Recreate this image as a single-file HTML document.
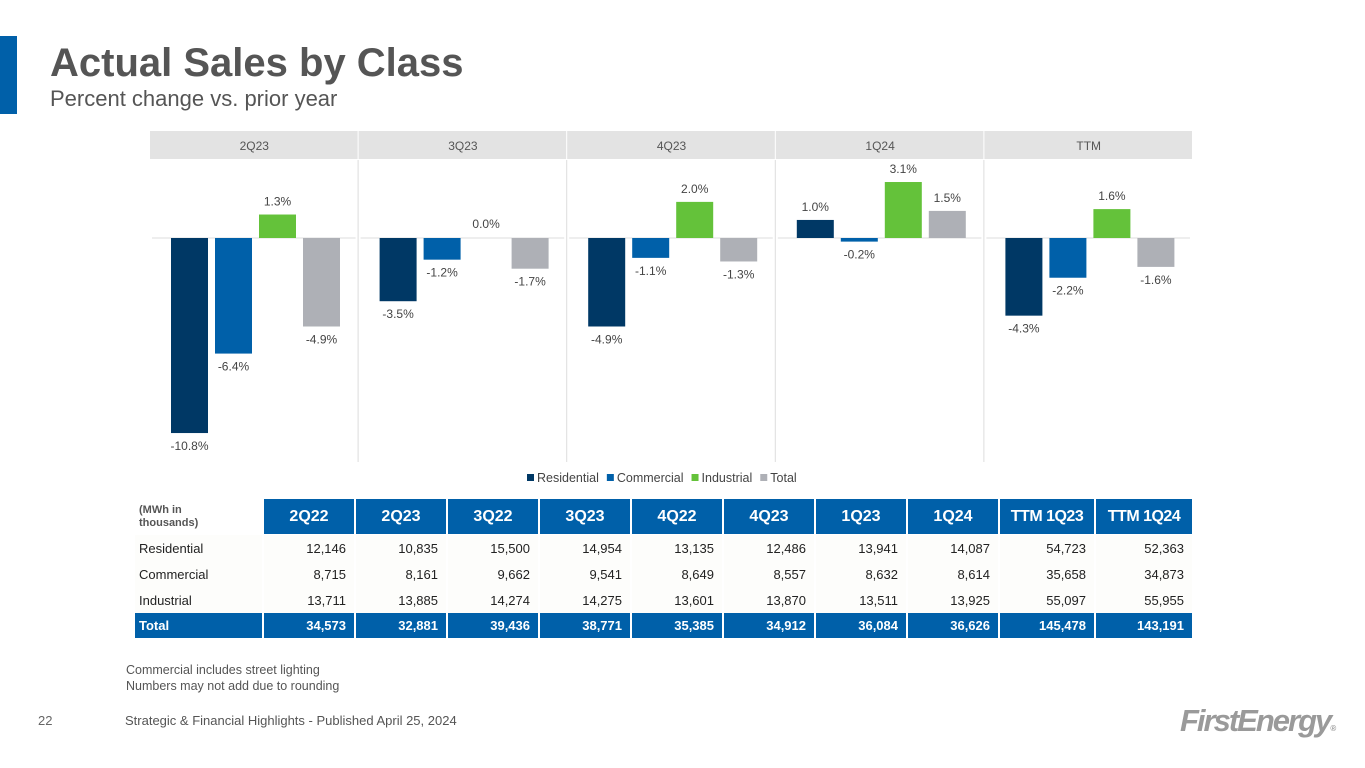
<!DOCTYPE html>
<html><head><meta charset="utf-8">
<style>
body{margin:0;width:1365px;height:768px;overflow:hidden;background:#fff;font-family:"Liberation Sans",Arial,sans-serif;position:relative}
.abs{position:absolute}
table{border-collapse:separate;border-spacing:2px 0;font-size:13px;color:#222;table-layout:fixed;width:1059px}
td,th{padding:0 8px;height:26px;white-space:nowrap;overflow:hidden;box-sizing:border-box}
th{background:#0060a9;color:#fff;font-size:16px;font-weight:bold;height:36px;text-align:center;border-bottom:1px solid #fff;padding:0 2px}
td.n{text-align:right;background:#fdfdfb}
td.l{text-align:left;background:#fdfdfb;padding-left:4px}
tr.tot td{background:#0060a9;color:#fff;font-weight:bold;height:25px}
</style></head><body>
<div class="abs" style="left:0;top:36px;width:17px;height:78px;background:#0060a9"></div>
<div class="abs" style="left:50px;top:41px;font-size:40px;font-weight:bold;color:#555">Actual Sales by Class</div>
<div class="abs" style="left:50px;top:86px;font-size:22px;color:#555">Percent change vs. prior year</div>

<svg class="abs" style="left:0;top:0" width="1365" height="500">
<g id="chart"></g>
</svg>

<div class="abs" style="left:133px;top:499px">
<table id="tbl"></table>
</div>

<div class="abs" style="left:126px;top:662px;font-size:12.5px;color:#555;line-height:16px">Commercial includes street lighting<br>Numbers may not add due to rounding</div>
<div class="abs" style="left:38px;top:713px;font-size:13px;color:#666">22</div>
<div class="abs" style="left:125px;top:713px;font-size:13px;color:#555">Strategic &amp; Financial Highlights - Published April 25, 2024</div>
<div class="abs" style="left:1180px;top:703px;font-size:31px;font-weight:bold;font-style:italic;color:#9a9a9a;letter-spacing:-2px">FirstEnergy<span style="font-size:8px;letter-spacing:0">®</span></div>

<script>
const periods=["2Q23","3Q23","4Q23","1Q24","TTM"];
const seriesNames=["Residential","Commercial","Industrial","Total"];
const residential=[-10.8,-3.5,-4.9,1.0,-4.3];
const commercial=[-6.4,-1.2,-1.1,-0.2,-2.2];
const industrial=[1.3,0.0,2.0,3.1,1.6];
const total=[-4.9,-1.7,-1.3,1.5,-1.6];
const colors=["#003865","#0060a9","#64c23a","#aeb0b6"];
const ns="http://www.w3.org/2000/svg";
const g=document.getElementById("chart");
const y0=238,pxPer=18.06,panelX0=150,panelW=208.6;
const yScale=v=>y0-v*pxPer;
function el(t,a){const e=document.createElementNS(ns,t);for(const k in a)e.setAttribute(k,a[k]);g.appendChild(e);return e;}
periods.forEach((p,i)=>{
  const x=panelX0+i*panelW;
  const h=el("rect",{x:x,y:131,width:panelW-1,height:28,fill:"#e3e3e3"});
  
  
  const t=el("text",{x:x+panelW/2,y:150,"text-anchor":"middle","font-size":12,fill:"#555"});t.textContent=p;
  
  
  if(i>0){const s=el("line",{x1:x-0.5,x2:x-0.5,y1:160,y2:462,stroke:"#ddd"});
  
  }
  const z=el("line",{x1:x+2,x2:x+panelW-3,y1:y0,y2:y0,stroke:"#ddd"});
  
  
  [residential,commercial,industrial,total].forEach((arr,j)=>{
    const v=arr[i];const bx=x+21+j*44;
    const top=Math.min(yScale(v),y0),hh=Math.abs(yScale(v)-y0);
    const r=el("rect",{x:bx,y:top,width:37,height:hh,fill:colors[j]});
    
    
    const ly=v>0?yScale(v)-9:(v<0?yScale(v)+17:y0-10);
    const l=el("text",{x:bx+18.5,y:ly,"text-anchor":"middle","font-size":12,fill:"#444"});
    l.textContent=v.toFixed(1)+"%";
    
    
  });
});
let lx=527;
seriesNames.forEach((n,j)=>{
  const s=el("rect",{x:lx,y:474,width:7,height:7,fill:colors[j]});
  
  
  const t=el("text",{x:lx+10,y:482,"font-size":12.5,fill:"#444"});t.textContent=n;
  
  
  lx+=t.getComputedTextLength()+18;
});

const cols=["2Q22","2Q23","3Q22","3Q23","4Q22","4Q23","1Q23","1Q24","TTM 1Q23","TTM 1Q24"];
const colW=[90,90,90,90,90,90,90,90,94,96];
const rows=[["Residential",["12,146","10,835","15,500","14,954","13,135","12,486","13,941","14,087","54,723","52,363"]],
["Commercial",["8,715","8,161","9,662","9,541","8,649","8,557","8,632","8,614","35,658","34,873"]],
["Industrial",["13,711","13,885","14,274","14,275","13,601","13,870","13,511","13,925","55,097","55,955"]],
["Total",["34,573","32,881","39,436","38,771","35,385","34,912","36,084","36,626","145,478","143,191"]]];
let h='<colgroup><col style="width:127px">';
colW.forEach(w=>h+=`<col style="width:${w}px">`);
h+='</colgroup><tr><td style="font-size:11px;font-weight:bold;color:#555;line-height:13px;height:36px;background:#fff;padding-left:4px">(MWh in<br>thousands)</td>';
cols.forEach((c,i)=>h+=`<th${i>7?' style="font-size:16px;letter-spacing:-0.5px"':''}>${c}</th>`);
h+='</tr>';
rows.forEach(r=>{
  h+=`<tr class="${r[0]=='Total'?'tot':''}"><td class="l">${r[0]}</td>`;
  r[1].forEach(v=>h+=`<td class="n">${v}</td>`);h+='</tr>';
});
document.getElementById("tbl").innerHTML=h;
</script>
</body></html>
